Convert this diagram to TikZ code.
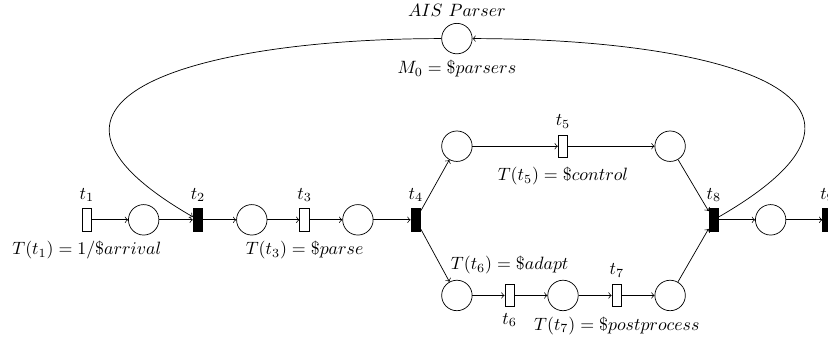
\documentclass[tikz,border=0pt]{standalone}
\usetikzlibrary{arrows}

\tikzset{
  place/.style={circle,draw,minimum size=6mm,inner sep=0pt},
  transition/.style={rectangle,draw,minimum width=1.9mm,minimum height=4.4mm,inner sep=0pt},
  timed/.style={transition,fill=white},
  immediate/.style={transition,fill=black}
}

\begin{document}
\begin{tikzpicture}

        % Frame
        \useasboundingbox (-1.71,-2.30) rectangle (14.60,4.33);
        \clip (-1.71,-2.30) rectangle (14.60,4.33);

        % Main line
        \node[timed,label={above:$t_1$},label={[label distance=2pt]below:$T(t_1) = 1/\$arrival$}] (t1) at (0,0) {};
        \node[place] (p1) at (1.12,0) {};
        \node[immediate,label={above:$t_2$}] (t2) at (2.19,0) {};
        \node[place] (p2) at (3.25,0) {};
        \node[timed,label={above:$t_3$},label={[label distance=2pt]below:$T(t_3) = \$parse$}] (t3) at (4.29,0) {};
        \node[place] (p3) at (5.34,0) {};
        \node[immediate,label={above:$t_4$}] (t4) at (6.48,0) {};
        \node[immediate,label={above:$t_8$}] (t8) at (12.35,0) {};
        \node[place] (p9) at (13.47,0) {};
        \node[immediate,label={above:$t_9$}] (t9) at (14.59,0) {};

        % Upper branch
        \node[place] (p4) at (7.29,1.45) {};
        \node[timed,label={above:$t_5$},label={[label distance=2pt]below:$T(t_5) = \$control$}] (t5) at (9.38,1.45) {};
        \node[place] (p5) at (11.49,1.45) {};

        % Lower branch
        \node[place] (p6) at (7.29,-1.49) {};
        \node[timed,label={[label distance=2pt]above:$T(t_6) = \$adapt$},label={below:$t_6$}] (t6) at (8.33,-1.49) {};
        \node[place] (p7) at (9.38,-1.49) {};
        \node[timed,label={above:$t_7$},label={[label distance=2pt]below:$T(t_7) = \$postprocess$}] (t7) at (10.44,-1.49) {};
        \node[place] (p8) at (11.49,-1.49) {};

        % Parser pool
        \node[place,label={above:$AIS~Parser$},label={below:$M_0 = \$parsers$}] (ais) at (7.29,3.57) {};

        % Arcs
        \foreach \a/\b in {t1/p1,p1/t2,t2/p2,p2/t3,t3/p3,p3/t4,t4/p4,t4/p6,p4/t5,t5/p5,p5/t8,
                          p6/t6,t6/p7,p7/t7,t7/p8,p8/t8,t8/p9,p9/t9}
        {
          \draw[->] (\a) -- (\b);
        }

        % Loop through the parser pool
        \draw[->] (ais) to[out=180,in=150,looseness=2] (t2);
        \draw[->] (t8) to[out=30,in=0,looseness=2.05] (ais);

\end{tikzpicture}
\end{document}
